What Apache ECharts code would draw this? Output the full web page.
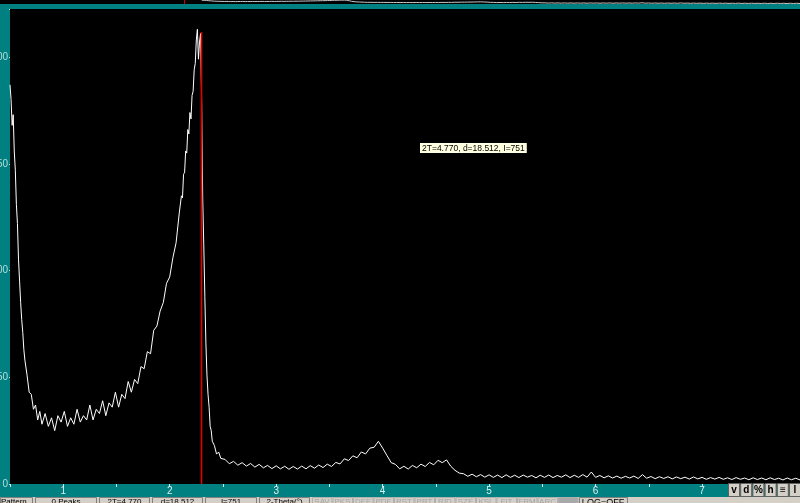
<!DOCTYPE html>
<html><head><meta charset="utf-8">
<script src="https://cdn.jsdelivr.net/npm/echarts@6/dist/echarts.min.js"></script>
<style>html,body{margin:0;padding:0;background:#008080;overflow:hidden}#c{width:800px;height:503px}</style>
</head><body><div id="c"></div>
<script>
// 2-Theta (deg) positions of the scan
const twoTheta = [
  0.50,0.51,0.52,0.53,0.54,0.55,0.56,0.57,0.58,0.59,0.60,0.61,0.62,0.63,0.64,0.66,0.68,0.70,0.72,0.74,0.76,0.78,0.80,
  0.83,0.86,0.89,0.92,0.95,0.98,1.01,1.04,1.07,1.10,1.13,1.16,1.19,1.22,1.25,1.28,1.31,1.34,1.37,1.40,1.43,1.46,1.49,1.52,1.55,1.58,1.61,1.64,1.67,1.70,1.73,1.76,1.79,1.82,1.85,1.88,1.91,1.94,1.97,2.00,2.03,2.06,2.09,
  2.10,2.11,2.12,2.13,2.14,2.15,2.16,2.17,2.18,2.19,2.20,2.21,2.22,2.23,2.24,2.25,2.26,2.27,2.28,2.29,2.30,2.31,2.32,2.33,2.34,2.35,2.36,2.37,2.38,2.39,2.40,2.42,2.44,2.46,2.48,
  2.52,2.56,2.60,2.64,2.68,2.72,2.76,2.80,2.84,2.88,2.92,2.96,3.00,3.04,3.08,3.12,3.16,3.20,3.24,3.28,
  3.32,3.36,3.40,3.44,3.48,3.52,3.56,3.60,3.64,3.68,3.72,3.76,3.80,3.84,3.88,3.92,3.96,4.00,4.04,4.08,
  4.12,4.16,4.20,4.24,4.28,4.32,4.36,4.40,4.44,4.48,4.52,4.56,4.60,4.64,4.68,4.72,4.76,4.80,4.84,4.88,
  4.92,4.96,5.00,5.04,5.08,5.12,5.16,5.20,5.24,5.28,5.32,5.36,5.40,5.44,5.48,5.52,5.56,5.60,5.64,5.68,
  5.72,5.76,5.80,5.84,5.88,5.92,5.96,6.00,6.04,6.08,6.12,6.16,6.20,6.24,6.28,6.32,6.36,6.40,6.44,6.48,
  6.52,6.56,6.60,6.64,6.68,6.72,6.76,6.80,6.84,6.88,6.92,6.96,7.00,7.04,7.08,7.12,7.16,7.20,7.24,7.28,
  7.32,7.36,7.40,7.44,7.48,7.52,7.56,7.60,7.64,7.68,7.72,7.76,7.80,7.84,7.88,7.92
];
// intensity read at each position
const counts = [
  187,180,168,173,156,147,131,122,105,95,85,77,71,63,58,51,43,42,35,37,30,34,28,
  33,27,31,25,32,29,34,27,31,28,35,29,32,30,37,30,35,33,39,32,38,36,43,36,42,40,48,43,49,47,55,54,62,61,72,74,81,85,94,97,106,113,127,
  127,135,134,145,146,156,155,166,164,174,171,182,184,194,197,208,213,199,207,211,178,134,112,88,66,51,42,36,27,25,20,18,14,15,12,
  11.5,9.5,10.6,8.8,10,8.4,9.6,7.9,9.2,7.6,8.7,7.2,8.5,7.1,8.3,6.9,8.2,7.0,8.4,7.1,
  8.6,7.4,8.9,7.7,9.3,8.2,10.1,9.4,11.8,11,13.2,12.3,15,14.1,16.8,17.2,20,16.8,13.4,10,
  9.2,7.1,8.3,7.0,8.7,7.6,9.3,8.2,10.1,9.0,11.1,10.0,11.3,8.3,6.4,5.1,4.8,3.6,4.6,3.4,
  4.4,3.2,4.3,3.1,4.2,3.0,4.3,3.1,4.1,3.0,4.2,3.2,4.0,2.9,4.1,3.1,4.2,3.0,4.0,3.2,
  4.3,3.0,4.1,3.1,4.4,3.2,5.6,3.1,4.0,2.9,3.8,2.8,3.7,2.7,3.6,2.8,3.7,2.6,4.4,2.7,
  3.5,2.5,3.4,2.6,3.4,2.4,3.3,2.5,3.2,2.3,3.3,2.4,3.1,2.2,3.0,2.3,3.1,2.2,2.9,2.1,
  3.0,2.2,2.8,2.0,2.9,2.1,2.8,2.0,2.9,2.1,2.7,1.9,2.8,2.0,2.7,1.9
];
const yTickStep = 50;
const xTickStep = 0.5;
const cursorAngle = 2.2988;
const cursorTop = 211.7;
const cursorLabel = '2T=4.770, d=18.512, I=751';
const statusFields = ['Pattern','0 Peaks','2T=4.770','d=18.512','I=751','2-Theta(\u00b0)'];
const toolbarButtons = ['SAV','PKS','DEF','PDF','RST','PRT','RID','SZE','KSL','FIT','FRM','ARC',''];
const logButton = 'LOG=OFF';
const sideButtons = ['v','d','%','h','\u2261','l'];

const points = twoTheta.map((t, i) => [t, counts[i]]);
const cursorPoints = [[cursorAngle, 0], [cursorAngle, cursorTop]];
const FONT = 'Liberation Sans, Arial, sans-serif';

const graphics = [];
graphics.push({type:'rect', z:100, shape:{x:184,y:0,width:1,height:4}, style:{fill:'#c00000'}});
graphics.push({type:'text', z:100, x:420, y:143, style:{text:cursorLabel, font:'8.5px ' + FONT, fill:'#000', backgroundColor:'#ffffe1', padding:[1,2,0,2], verticalAlign:'top'}});
graphics.push({type:'rect', z:100, shape:{x:0,y:497,width:800,height:6}, style:{fill:'#d4d0c8'}});
const statusBoxes = [[0,33],[35,97],[99,150],[152,203],[205,257],[259,310]];
statusFields.forEach((t, i) => {
  const [a, b] = statusBoxes[i];
  graphics.push({type:'rect', z:101, shape:{x:a+0.5,y:497.5,width:b-a-1,height:8}, style:{fill:'none', stroke:'#808080', lineWidth:1}});
  graphics.push({type:'text', z:102, x: i === 0 ? a + 1 : (a + b) / 2, y:498, style:{text:t, font:'8px ' + FONT, fill:'#000', align: i === 0 ? 'left' : 'center', verticalAlign:'top'}});
});
toolbarButtons.forEach((t, i) => {
  const a = 312 + i * 20.5;
  graphics.push({type:'rect', z:101, shape:{x:a+0.5,y:497.5,width:19.5,height:8}, style:{fill: t ? 'none' : '#a8a8a8', stroke:'#b0b0b0', lineWidth:1}});
  graphics.push({type:'text', z:102, x:a + 10, y:498, style:{text:t, font:'8px ' + FONT, fill:'#a4a4a4', align:'center', verticalAlign:'top'}});
});
graphics.push({type:'rect', z:101, shape:{x:579.5,y:497.5,width:48,height:8}, style:{fill:'#d4d0c8', stroke:'#808080', lineWidth:1}});
graphics.push({type:'text', z:102, x:603, y:498, style:{text:logButton, font:'9px ' + FONT, fill:'#000', align:'center', verticalAlign:'top'}});
sideButtons.forEach((t, i) => {
  const a = 728 + i * 12.2;
  graphics.push({type:'rect', z:101, shape:{x:a+0.5,y:483.5,width:11,height:13}, style:{fill:'#d4d0c8', stroke:'#606060', lineWidth:1}});
  graphics.push({type:'text', z:102, x:a + 6, y:490, style:{text:t, font:'bold 10px ' + FONT, fill:'#000', align:'center', verticalAlign:'middle'}});
});

const chart = echarts.init(document.getElementById('c'));
chart.setOption({
  backgroundColor:'#008080',
  animation:false,
  grid:[
    {left:10, right:0, top:9, bottom:19, show:true, backgroundColor:'#000', borderWidth:0, containLabel:false, outerBoundsMode:'none'},
    {left:0, right:0, top:0, height:4, show:true, backgroundColor:'#000', borderWidth:0, containLabel:false, outerBoundsMode:'none'}
  ],
  xAxis:[
    {gridIndex:0, type:'value', min:0.5, max:7.92, interval:xTickStep,
     axisLine:{show:false},
     axisTick:{show:true, length:3, lineStyle:{color:'#d0e8e8', width:1}},
     axisLabel:{color:'#dceeee', fontSize:10, fontFamily:FONT, margin:2,
       formatter: v => Number.isInteger(v) ? String(v) : ''},
     splitLine:{show:false}},
    {gridIndex:1, type:'value', min:-2, max:7.92, show:false}
  ],
  yAxis:[
    {gridIndex:0, type:'value', min:0, max:222.5, interval:yTickStep,
     axisLine:{show:false},
     axisTick:{show:true, length:1, lineStyle:{color:'#b8dcdc'}},
     axisLabel:{color:'#b8dcdc', fontSize:10, fontFamily:FONT, margin:2,
       formatter: v => (v % yTickStep === 0) ? String(v) : ''},
     splitLine:{show:false}},
    {gridIndex:1, type:'log', min:1, max:250, show:false}
  ],
  series:[
    {type:'line', xAxisIndex:0, yAxisIndex:0, data:points, showSymbol:false, symbol:'none', z:2,
     lineStyle:{color:'#ffffff', width:1}, clip:true, silent:true},
    {type:'line', xAxisIndex:0, yAxisIndex:0, data:cursorPoints, showSymbol:false, symbol:'none', z:3,
     lineStyle:{color:'#e00000', width:1.6, opacity:1}, itemStyle:{color:'#e00000'}, clip:true, silent:true},
    {type:'line', xAxisIndex:1, yAxisIndex:1, data:points, showSymbol:false, symbol:'none',
     lineStyle:{color:'#c8c8c8', width:1}, clip:true, silent:true}
  ],
  graphic:graphics
});
</script>
</body></html>
